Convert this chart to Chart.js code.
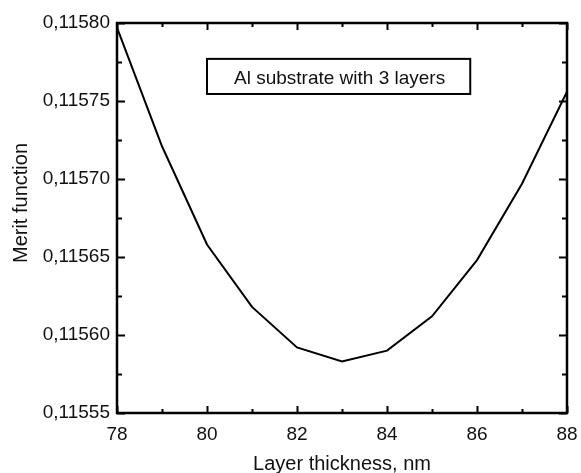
<!DOCTYPE html>
<html>
<head>
<meta charset="utf-8">
<script src="https://cdn.jsdelivr.net/npm/chart.js@4/dist/chart.umd.min.js"></script>
<style>
html,body{margin:0;padding:0;background:#fff;}
#wrap{width:581px;height:473px;position:relative;}
</style>
</head>
<body>
<div id="wrap"><canvas id="c"></canvas></div>
<script>
const thickness = [78, 79, 80, 81, 82, 83, 84, 85, 86, 87, 88];
const merit = [0.115797, 0.115721, 0.115658, 0.115618, 0.115592, 0.115583, 0.115590, 0.115612, 0.115648, 0.115697, 0.115756];
const xTicks = [78, 80, 82, 84, 86, 88];
const xMinorTicks = [79, 81, 83, 85, 87];
const yTicks = [0.11555, 0.11560, 0.11565, 0.11570, 0.11575, 0.11580];
const yMinorTicks = [0.115575, 0.115625, 0.115675, 0.115725, 0.115775];
const xTitle = "Layer thickness, nm";
const yTitle = "Merit function";
const noteText = "Al substrate with 3 layers";

const FONT = '"Liberation Sans", Arial, sans-serif';
const INK = '#111';

const framePlugin = {
  id: 'frame',
  afterDraw(chart) {
    const ctx = chart.ctx;
    const xs = chart.scales.x, ys = chart.scales.y;
    const a = chart.chartArea;
    ctx.save();
    ctx.strokeStyle = '#000';
    ctx.lineWidth = 2.5;
    ctx.strokeRect(a.left, a.top, a.right - a.left, a.bottom - a.top);
    ctx.lineWidth = 2;
    const tickX = (vals, len) => {
      vals.forEach(v => {
        const px = Math.round(xs.getPixelForValue(v)) + 0.5;
        ctx.beginPath();
        ctx.moveTo(px, a.bottom); ctx.lineTo(px, a.bottom - len);
        ctx.moveTo(px, a.top); ctx.lineTo(px, a.top + len);
        ctx.stroke();
      });
    };
    const tickY = (vals, len) => {
      vals.forEach(v => {
        const py = Math.round(ys.getPixelForValue(v)) + 0.5;
        ctx.beginPath();
        ctx.moveTo(a.left, py); ctx.lineTo(a.left + len, py);
        ctx.moveTo(a.right, py); ctx.lineTo(a.right - len, py);
        ctx.stroke();
      });
    };
    tickX(xTicks, 7); tickX(xMinorTicks, 4);
    tickY(yTicks, 8); tickY(yMinorTicks, 5);
    ctx.fillStyle = INK;
    ctx.font = '19px ' + FONT;
    ctx.textAlign = 'center';
    ctx.textBaseline = 'alphabetic';
    xTicks.forEach(v => {
      ctx.fillText(String(v), xs.getPixelForValue(v), a.bottom + 27);
    });
    ctx.textAlign = 'right';
    ctx.textBaseline = 'middle';
    yTicks.forEach(v => {
      ctx.fillText(v.toFixed(5).replace('.', ','), a.left - 7, ys.getPixelForValue(v));
    });
    ctx.font = '20px ' + FONT;
    ctx.textAlign = 'center';
    ctx.textBaseline = 'alphabetic';
    ctx.fillText(xTitle, (a.left + a.right) / 2, a.bottom + 57);
    ctx.save();
    ctx.translate(27, (a.top + a.bottom) / 2 - 15);
    ctx.rotate(-Math.PI / 2);
    ctx.fillText(yTitle, 0, 0);
    ctx.restore();
    const bx1 = xs.getPixelForValue(80.0), bx2 = xs.getPixelForValue(85.85);
    const by1 = ys.getPixelForValue(0.115777), by2 = ys.getPixelForValue(0.1157545);
    ctx.lineWidth = 2;
    ctx.strokeRect(bx1, by1, bx2 - bx1, by2 - by1);
    ctx.font = '19px ' + FONT;
    ctx.textAlign = 'left';
    ctx.textBaseline = 'alphabetic';
    ctx.fillText(noteText, bx1 + 27, by1 + 25);
    ctx.restore();
  }
};

new Chart(document.getElementById('c'), {
  type: 'line',
  data: {
    datasets: [{
      data: thickness.map((t, i) => ({ x: t, y: merit[i] })),
      borderColor: '#000',
      borderWidth: 2,
      pointRadius: 0,
      tension: 0,
      fill: false
    }]
  },
  options: {
    responsive: true,
    maintainAspectRatio: false,
    animation: false,
    layout: { padding: { left: 117, right: 14, top: 23, bottom: 60 } },
    plugins: { legend: { display: false }, tooltip: { enabled: false } },
    scales: {
      x: { type: 'linear', min: 78, max: 88, display: false },
      y: { type: 'linear', min: 0.11555, max: 0.11580, display: false }
    }
  },
  plugins: [framePlugin]
});
</script>
</body>
</html>
